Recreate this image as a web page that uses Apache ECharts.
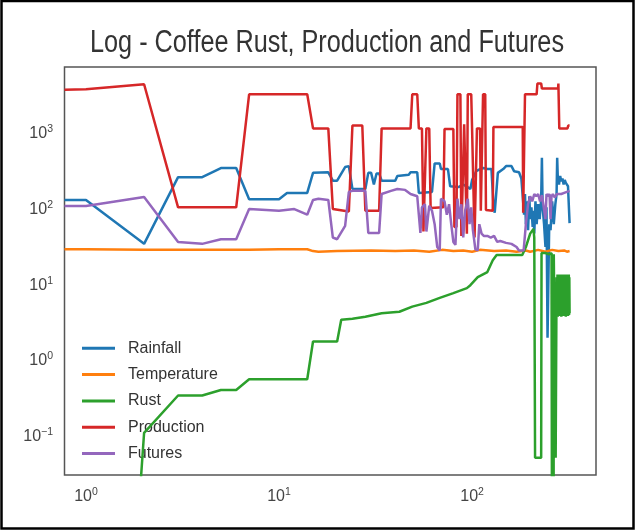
<!DOCTYPE html>
<html>
<head>
<meta charset="utf-8">
<script src="https://cdn.jsdelivr.net/npm/echarts@6/dist/echarts.min.js"></script>
<style>
html,body{margin:0;padding:0;background:#fff;}
#chart{width:636px;height:531px;}
</style>
</head>
<body>
<div id="chart"></div>
<script>
// ---- data: [index, value] pairs ----
const seriesNames = ['Rainfall', 'Temperature', 'Rust', 'Production', 'Futures'];
const titleText = 'Log - Coffee Rust, Production and Futures';
const xTickExps = [0, 1, 2];
const yTickExps = [-1, 0, 1, 2, 3];

const rainfall = [[0,125],[1,125],[2,33],[3,250],[4,250],[5,330],[6,330],[7,128],[10,128],[11,155],[14,155],[15,285],[18,290],[19,225],[20,225],[22,340],[23,350],[24,175],[28,175],[29,285],[30,285],[31,200],[32,280],[33,280],[34,225],[40,225],[41,260],[47,270],[48,290],[52,290],[53,155],[62,160],[64,380],[68,380],[69,320],[75,320],[77,190],[85,185],[90,200],[98,175],[100,230],[105,300],[110,320],[114,330],[120,320],[126,320],[129,110],[131,85],[134,85],[136,285],[145,320],[150,350],[160,350],[165,300],[175,290],[180,240],[184,230],[186,80],[188,150],[190,60],[192,120],[195,50],[198,140],[200,70],[203,100],[206,55],[208,90],[210,45],[213,120],[216,60],[220,110],[224,70],[228,130],[230,450],[232,100],[236,60],[240,30],[243,100],[246,1.9],[249,1.9],[251,60],[255,50],[260,120],[265,60],[270,110],[274,150],[276,450],[278,250],[282,200],[286,260],[290,220],[294,240],[298,200],[302,230],[306,210],[310,220],[314,190],[318,180],[320,62]];

const temperature = [[0,28],[1,28],[2,27.5],[7,27.5],[10,28],[14,28],[15,26.5],[16,26],[20,26.5],[30,27],[40,26.5],[50,27],[60,26],[70,27.5],[80,26.5],[90,27],[100,26],[110,27.5],[130,26.5],[150,27],[170,26],[190,27],[200,26],[220,27.5],[240,26],[260,27.5],[280,26.5],[300,27],[310,26],[320,26.5]];

// zero readings (below the log axis) are stored as 1e-12
const rust = [[0,1e-12],[1,1e-12],[2,0.106],[3,0.33],[4,0.33],[5,0.39],[6,0.39],[7,0.54],[14,0.54],[15,1.7],[20,1.7],[21,3.3],[24,3.4],[28,3.6],[34,4.0],[42,4.2],[49,4.9],[58,5.5],[68,6.4],[80,7.4],[94,8.6],[98,9.4],[107,12],[120,14],[128,20],[134,23.5],[182,23.5],[190,30],[200,45],[208,52],[210,40],[212,0.05],[228,0.05],[229,25],[232,24],[240,25],[250,24],[258,25],[262,24],[263,1e-12],[264,1e-12],[265,24],[270,24],[271,0.05],[273,0.05],[274,12],[276,4],[277,13],[278,3.6],[279,12],[280,4.2],[281,13],[282,3.7],[283,11],[284,4],[285,13],[286,3.8],[287,12],[288,4.5],[289,13],[290,3.6],[291,11],[292,4],[293,12.5],[294,3.9],[295,13],[296,4.3],[297,12],[298,3.7],[299,11.5],[300,4.1],[301,13],[302,3.8],[303,12],[304,4.4],[305,12.5],[306,3.6],[307,11],[308,4],[309,13],[310,3.9],[311,12],[312,4.2],[313,12.5],[314,3.7],[315,11.5],[316,4],[317,13],[318,3.8],[319,12],[320,4]];

const production = [[0,3550],[1,3600],[2,4200],[3,100],[6,100],[7,3100],[14,3100],[15,1100],[18,1100],[19,95],[23,88],[24,1200],[27,1200],[28,90],[33,90],[34,1100],[48,1100],[49,3100],[52,3100],[53,1100],[55,1100],[56,48],[57,48],[58,1100],[60,1100],[61,98],[71,100],[72,1080],[80,1080],[81,55],[83,55],[84,3100],[87,3100],[88,42],[90,42],[91,1250],[93,1250],[94,45],[95,3100],[99,3100],[100,1100],[102,1100],[103,40],[105,40],[106,1100],[110,1100],[111,90],[113,90],[114,3100],[117,3100],[118,92],[128,90],[129,1150],[183,1150],[184,85],[187,85],[188,3100],[216,3100],[218,4300],[228,4300],[230,3700],[279,3700],[280,4300],[281,4300],[283,1100],[312,1100],[315,1200],[320,1200]];

const futures = [[0,104],[1,104],[2,137],[3,35],[4,33],[5,38],[6,38],[7,95],[10,90],[12,95],[14,80],[15,125],[16,130],[18,125],[19,40],[20,38],[22,57],[23,160],[24,165],[28,165],[29,46],[33,46],[34,150],[38,165],[41,175],[45,170],[48,150],[52,140],[54,46],[55,100],[57,110],[58,48],[60,105],[62,90],[64,60],[66,30],[68,27],[69,130],[72,120],[74,80],[76,110],[78,60],[80,35],[82,32],[84,130],[86,70],[88,110],[90,40],[92,90],[95,130],[97,60],[99,100],[101,50],[104,28],[107,27],[109,60],[112,45],[115,42],[120,42],[125,40],[130,42],[135,35],[140,36],[150,34],[160,33],[170,30],[175,27],[185,27],[190,60],[195,110],[200,140],[205,120],[210,150],[215,140],[220,150],[225,120],[230,145],[235,150],[240,70],[243,150],[248,140],[252,150],[255,70],[258,140],[262,150],[268,135],[275,150],[280,145],[290,150],[300,155],[310,160],[320,165]];

const colors = ['#1f77b4', '#ff7f0e', '#2ca02c', '#d62728', '#9467bd'];

// axis limits (log scale)
const X_MIN = 0.774, X_MAX = 438.5;
const Y_MIN = 0.0295, Y_MAX = 7100;

const allSeries = [rainfall, temperature, rust, production, futures];

function toPoints(arr) {
  // index 0 is clipped to the left edge of the log axis (as matplotlib does)
  return arr.map(p => [Math.max(p[0], X_MIN), p[1]]);
}

function supLabel(exps) {
  return function (v) {
    const l = Math.log10(v);
    const e = Math.round(l);
    if (Math.abs(l - e) > 1e-6 || exps.indexOf(e) < 0) return '';
    return '{b|10}{s|' + (e < 0 ? '\u2212' + (-e) : String(e)) + '}';
  };
}

const richStyle = {
  b: { fontSize: 16, fontFamily: 'Liberation Sans', color: '#444', lineHeight: 16, padding: [4, 0, 0, 0] },
  s: { fontSize: 10.5, fontFamily: 'Liberation Sans', color: '#444', lineHeight: 11, verticalAlign: 'top' }
};

const chart = echarts.init(document.getElementById('chart'), null, { renderer: 'canvas' });

chart.setOption({
  animation: false,
  backgroundColor: '#fff',
  graphic: [{
    type: 'rect',
    shape: { x: 1.5, y: 1, width: 632, height: 527.5 },
    style: { fill: 'none', stroke: '#000', lineWidth: 2.5 },
    silent: true
  }, {
    type: 'text',
    x: 90,
    y: 43.5,
    scaleX: 0.82,
    scaleY: 1,
    silent: true,
    style: {
      text: titleText,
      x: 0, y: 0,
      font: 'normal 30.8px "Liberation Sans", Arial, sans-serif',
      fill: '#333',
      textAlign: 'left',
      textVerticalAlign: 'middle'
    }
  }],
  grid: {
    left: 64.5, top: 67, width: 531.5, height: 408,
    show: true, borderColor: '#555', borderWidth: 1.5, backgroundColor: 'transparent'
  },
  legend: {
    data: seriesNames,
    orient: 'vertical',
    left: 77,
    top: 335.3,
    itemWidth: 33,
    itemHeight: 3,
    itemGap: 10.3,
    icon: 'rect',
    textStyle: { fontFamily: 'Liberation Sans', fontSize: 16, lineHeight: 16, color: '#333', padding: [0, 0, 0, 8] }
  },
  xAxis: {
    type: 'log', logBase: 10, min: X_MIN, max: X_MAX,
    axisLine: { show: false }, axisTick: { show: false },
    splitLine: { show: false }, minorTick: { show: false }, minorSplitLine: { show: false },
    axisLabel: { interval: 0, margin: 11.5, formatter: supLabel(xTickExps), rich: richStyle }
  },
  yAxis: {
    type: 'log', logBase: 10, min: Y_MIN, max: Y_MAX,
    axisLine: { show: false }, axisTick: { show: false },
    splitLine: { show: false }, minorTick: { show: false }, minorSplitLine: { show: false },
    axisLabel: { interval: 0, margin: 11.5, formatter: supLabel(yTickExps), rich: richStyle }
  },
  series: seriesNames.map((name, i) => ({
    name: name,
    type: 'line',
    data: toPoints(allSeries[i]),
    showSymbol: false,
    symbol: 'none',
    clip: true,
    color: colors[i],
    lineStyle: { width: 2.5, color: colors[i] },
    itemStyle: { color: colors[i] },
    z: 2 + i
  }))
});
</script>
</body>
</html>
